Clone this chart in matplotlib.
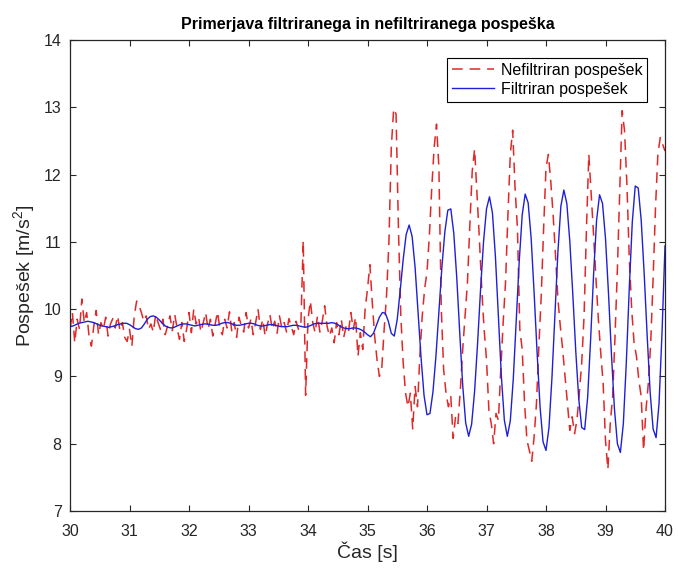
import numpy as np
import matplotlib
matplotlib.use('Agg')
import matplotlib.pyplot as plt

plt.rcParams['font.family'] = ['Liberation Sans', 'DejaVu Sans']
plt.rcParams['mathtext.fontset'] = 'custom'
plt.rcParams['mathtext.rm'] = 'Liberation Sans'
plt.rcParams['mathtext.it'] = 'Liberation Sans'

# Unfiltered acceleration, sampled every 0.04 s (one row = one second)
raw_acc = [
    9.70, 9.95, 9.50, 9.85, 9.70, 10.15, 9.80, 9.95, 9.60, 9.45, 9.75, 9.98, 9.62,
    9.80, 9.70, 9.88, 9.60, 9.78, 9.86, 9.72, 9.90, 9.68, 9.80, 9.58, 9.52,
    9.70, 9.45, 9.90, 10.12, 10.05, 9.95, 9.82, 9.90, 9.70, 9.78, 9.66, 9.92, 9.80,
    9.70, 9.85, 9.62, 9.75, 9.90, 9.68, 9.92, 9.72, 9.55, 9.80, 9.52, 9.70,
    9.95, 9.65, 10.00, 9.78, 9.88, 9.66, 9.80, 9.95, 9.70, 9.85, 9.60, 9.78, 9.96,
    9.70, 9.62, 9.85, 9.72, 9.96, 9.66, 9.80, 9.58, 9.88, 9.75, 9.66, 9.95,
    9.72, 9.85, 9.62, 9.80, 10.00, 9.70, 9.85, 9.60, 9.78, 9.92, 9.70, 9.82, 9.64,
    9.90, 9.72, 9.80, 9.66, 9.86, 9.74, 9.62, 9.82, 9.70, 9.76, 11.02, 8.72,
    9.85, 10.12, 9.80, 9.65, 9.90, 9.66, 9.82, 10.05, 9.75, 9.60, 9.72, 9.50, 9.80,
    9.62, 9.85, 9.58, 9.74, 9.66, 9.95, 9.70, 9.88, 9.30, 9.65, 9.40, 10.00,
    10.30, 10.66, 10.10, 9.60, 9.25, 9.00, 9.12, 9.70, 10.20, 11.00, 12.40, 12.98, 12.90,
    11.20, 9.90, 9.20, 8.75, 8.55, 8.75, 8.22, 8.85, 8.55, 9.30, 9.90, 10.30,
    10.55, 11.10, 11.80, 12.40, 12.75, 12.10, 10.00, 9.10, 8.75, 8.55, 8.70, 8.08, 8.40,
    8.30, 8.80, 9.40, 9.90, 10.40, 11.25, 12.05, 12.38, 11.70, 11.05, 10.30, 9.70,
    9.25, 8.50, 8.30, 8.00, 8.45, 8.35, 9.10, 9.80, 10.40, 11.40, 12.30, 12.66, 11.80,
    11.20, 9.70, 9.40, 8.60, 8.05, 7.90, 7.74, 8.10, 8.60, 9.45, 10.20, 11.20,
    12.10, 12.30, 11.90, 11.40, 10.80, 10.15, 9.75, 9.40, 9.00, 8.60, 8.20, 8.40, 8.15,
    8.35, 8.75, 9.20, 9.90, 11.20, 12.30, 11.70, 11.10, 10.45, 9.85, 9.35, 8.90,
    8.05, 7.62, 8.30, 8.70, 9.60, 10.60, 11.80, 12.95, 12.65, 11.85, 10.75, 10.00, 9.50,
    9.30, 8.95, 8.70, 7.90, 8.50, 8.90, 9.50, 10.45, 11.50, 12.30, 12.55, 12.45,
    12.35,
]

# Filtered acceleration, sampled every 0.05 s (one row = one second)
filt_acc = [
    9.74, 9.75, 9.77, 9.79, 9.80, 9.81, 9.82, 9.81, 9.80, 9.78,
    9.76, 9.75, 9.74, 9.73, 9.74, 9.75, 9.77, 9.78, 9.79, 9.79,
    9.77, 9.74, 9.71, 9.70, 9.72, 9.78, 9.85, 9.89, 9.90, 9.88,
    9.84, 9.79, 9.75, 9.73, 9.72, 9.73, 9.75, 9.77, 9.78, 9.78,
    9.77, 9.76, 9.75, 9.76, 9.77, 9.78, 9.78, 9.77, 9.76, 9.76,
    9.77, 9.79, 9.80, 9.80, 9.79, 9.77, 9.76, 9.76, 9.77, 9.78,
    9.79, 9.79, 9.78, 9.76, 9.75, 9.75, 9.76, 9.77, 9.77, 9.76,
    9.75, 9.74, 9.74, 9.74, 9.75, 9.76, 9.76, 9.75, 9.74, 9.73,
    9.74, 9.76, 9.78, 9.79, 9.79, 9.79, 9.79, 9.79, 9.80, 9.79,
    9.77, 9.74, 9.72, 9.71, 9.71, 9.72, 9.72, 9.71, 9.69, 9.66,
    9.62, 9.59, 9.64, 9.76, 9.88, 9.95, 9.94, 9.82, 9.64, 9.60,
    9.85, 10.28, 10.74, 11.11, 11.25, 11.08, 10.62, 9.96, 9.28, 8.72,
    8.43, 8.45, 8.77, 9.30, 9.96, 10.62, 11.15, 11.47, 11.49, 11.13,
    10.47, 9.65, 8.87, 8.31, 8.11, 8.29, 8.78, 9.49, 10.29, 11.00,
    11.49, 11.67, 11.43, 10.78, 9.89, 9.00, 8.35, 8.11, 8.34, 8.96,
    9.82, 10.71, 11.40, 11.71, 11.58, 11.06, 10.25, 9.36, 8.55, 8.03,
    7.90, 8.24, 8.98, 9.93, 10.85, 11.53, 11.77, 11.57, 11.01, 10.23,
    9.38, 8.67, 8.24, 8.21, 8.69, 9.55, 10.52, 11.32, 11.70, 11.57,
    11.05, 10.24, 9.33, 8.52, 8.00, 7.87, 8.30, 9.21, 10.32, 11.29,
    11.83, 11.80, 11.32, 10.53, 9.61, 8.77, 8.22, 8.09, 8.60, 9.65,
    10.94,
]

t_raw = np.linspace(30, 40, len(raw_acc))
t_filt = np.linspace(30, 40, len(filt_acc))

x_ticks = list(range(30, 41))
y_ticks = list(range(7, 15))

fig = plt.figure(figsize=(6.78, 5.68), dpi=100)
ax = fig.add_axes([70/678, 57/568, 595/678, 471/568])

ax.plot(t_raw, raw_acc, color='#e02828', lw=1.1, dashes=(7, 4.5),
        label='Nefiltriran pospešek')
ax.plot(t_filt, filt_acc, color='#1f1fd6', lw=1.0, label='Filtriran pospešek')

ax.set_xlim(30, 40)
ax.set_ylim(7, 14)
ax.set_xticks(x_ticks)
ax.set_yticks(y_ticks)

dark = '#262626'
for s in ax.spines.values():
    s.set_color(dark)
    s.set_linewidth(0.9)
ax.tick_params(direction='in', top=True, right=True, length=4, width=0.8,
               colors=dark, labelsize=11.5, labelcolor=dark)
ax.tick_params(axis='x', pad=9)
ax.tick_params(axis='y', pad=6)

ax.set_title('Primerjava filtriranega in nefiltriranega pospeška',
             fontsize=11.5, fontweight='bold', pad=8)
ax.set_xlabel('Čas [s]', fontsize=14, color=dark, labelpad=2)
ax.set_ylabel('Pospešek [m/s$^2$]', fontsize=14, color=dark, labelpad=5)

leg = ax.legend(loc='upper right', bbox_to_anchor=(1 - 18/595, 1 - 18/471),
                borderaxespad=0, fontsize=11.5, handlelength=2.65,
                handletextpad=0.4, fancybox=False, framealpha=1,
                edgecolor='black', borderpad=0.3, labelspacing=0.25)
leg.get_frame().set_linewidth(0.8)

fig.savefig('out.png', dpi=100)
